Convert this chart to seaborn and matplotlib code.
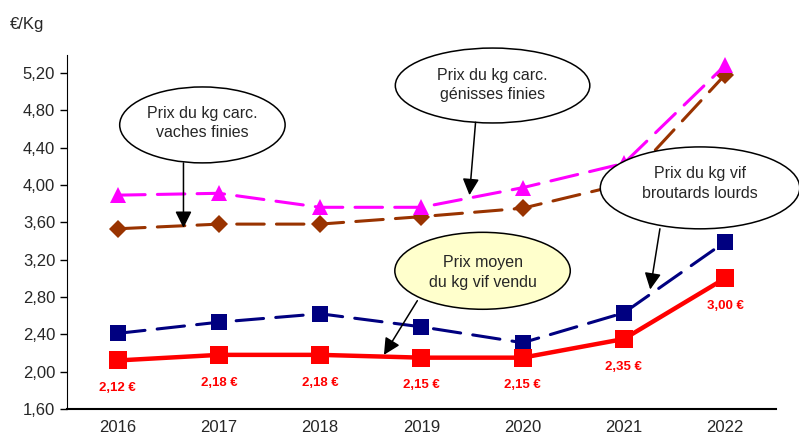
import matplotlib
matplotlib.use('Agg')
import matplotlib.pyplot as plt
from matplotlib.patches import Ellipse
import pandas as pd
import seaborn as sns

# Data
years = ['2016', '2017', '2018', '2019', '2020', '2021', '2022']
genisses = [3.89, 3.91, 3.76, 3.76, 3.97, 4.23, 5.28]
vaches = [3.53, 3.58, 3.58, 3.66, 3.75, 4.01, 5.18]
broutards = [2.41, 2.53, 2.62, 2.48, 2.31, 2.63, 3.39]
prix_moyen = [2.12, 2.18, 2.18, 2.15, 2.15, 2.35, 3.00]
yticks = [1.60, 2.00, 2.40, 2.80, 3.20, 3.60, 4.00, 4.40, 4.80, 5.20]

sns.set_style('white')
plt.rcParams['font.family'] = ['Liberation Sans', 'DejaVu Sans']

df = pd.DataFrame({'x': range(len(years)), 'genisses': genisses, 'vaches': vaches,
                   'broutards': broutards, 'prix': prix_moyen})

fig = plt.figure(figsize=(7.99, 4.37), dpi=100)
ax = fig.add_axes([0.0839, 0.064, 0.887, 0.81])

dash = (9, 4)
sns.lineplot(data=df, x='x', y='broutards', ax=ax, color='#000080', lw=2.2,
             marker='s', markersize=11, markeredgewidth=0)
sns.lineplot(data=df, x='x', y='vaches', ax=ax, color='#993300', lw=2.2,
             marker='D', markersize=9, markeredgewidth=0)
sns.lineplot(data=df, x='x', y='genisses', ax=ax, color='#FF00FF', lw=2.2,
             marker='^', markersize=12, markeredgewidth=0)
for ln in ax.lines:
    ln.set_dashes(dash)
    ln.set_dash_capstyle('round')
sns.lineplot(data=df, x='x', y='prix', ax=ax, color='#FF0000', lw=3.2,
             marker='s', markersize=13, markeredgewidth=0)

# red value labels
for i, v in enumerate(prix_moyen):
    ax.annotate(f'{v:.2f} €'.replace('.', ','), (i, v), xytext=(0, -20),
                textcoords='offset points', ha='center', va='center',
                color='#FF0000', fontsize=9.5, fontweight='bold')

# callouts: text, ellipse centre/size, text y, arrow start, arrow tip, fill
callouts = [
    ('Prix du kg carc.\nvaches finies', (0.837, 4.642), 1.634, 0.813, 4.663,
     (0.65, 4.235), (0.65, 3.54), 'white'),
    ('Prix du kg carc.\ngénisses finies', (3.703, 5.064), 1.921, 0.802, 5.07,
     (3.535, 4.67), (3.475, 3.89), 'white'),
    ('Prix du kg vif\nbroutards lourds', (5.752, 3.968), 1.970, 0.877, 4.011,
     (5.356, 3.53), (5.26, 2.88), 'white'),
    ('Prix moyen\ndu kg vif vendu', (3.604, 3.080), 1.733, 0.824, 3.059,
     (2.96, 2.76), (2.63, 2.18), '#FFFFCC'),
]
for txt, c, w, h, ty, start, tip, fc in callouts:
    ax.add_patch(Ellipse(c, w, h, fc=fc, ec='black', lw=1.1, zorder=10, clip_on=False))
    ax.text(c[0], ty, txt, ha='center', va='center', fontsize=11.5,
            linespacing=1.4, zorder=11)
    ax.annotate('', tip, xytext=start, zorder=11,
                arrowprops=dict(arrowstyle='-|>', color='black', lw=1.1,
                                mutation_scale=25, shrinkA=0, shrinkB=0))

ax.set_xlim(-0.5, 6.5)
ax.set_ylim(1.60, 5.39)
ax.set_xticks(range(len(years)))
ax.set_xticklabels(years, fontsize=12)
ax.set_xticks([i - 0.5 for i in range(len(years) + 1)], minor=True)
ax.tick_params(axis='x', which='major', length=0, pad=8)
ax.tick_params(axis='x', which='minor', length=5, width=1, direction='out', color='black')
ax.set_yticks(yticks)
ax.set_yticklabels([f'{t:.2f}'.replace('.', ',') for t in yticks], fontsize=12)
ax.tick_params(axis='y', length=5, width=1, direction='out', color='black', left=True)
ax.set_xlabel('')
ax.set_ylabel('')
for s in ['top', 'right']:
    ax.spines[s].set_visible(False)
ax.spines['left'].set_color('black')
ax.spines['bottom'].set_color('black')
ax.spines['bottom'].set_linewidth(1.5)

fig.text(0.012, 0.945, '€/Kg', fontsize=12, ha='left', va='center')

fig.savefig('out.png', dpi=100)
